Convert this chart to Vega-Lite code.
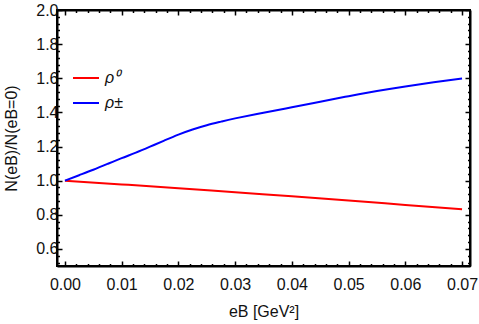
{
  "$schema": "https://vega.github.io/schema/vega-lite/v6.json",
  "autosize": "none",
  "width": 413,
  "height": 256,
  "padding": {"left": 57, "top": 10, "right": 9, "bottom": 58},
  "background": "white",
  "config": {
    "view": {"stroke": "black", "strokeWidth": 2},
    "font": "Liberation Sans",
    "axis": {"grid": false, "domainColor": "black", "domainWidth": 2, "tickColor": "black", "tickWidth": 1.5, "labelColor": "#111", "titleColor": "#111", "labelFont": "Liberation Sans", "titleFont": "Liberation Sans", "labelFontSize": 16, "titleFontSize": 16, "titleFontWeight": "normal"}
  },
  "data": {"values": [
    {"series": "ρ⁰", "eB": 0.0, "ratio": 1.0},
    {"series": "ρ⁰", "eB": 0.01, "ratio": 0.978},
    {"series": "ρ⁰", "eB": 0.02, "ratio": 0.956},
    {"series": "ρ⁰", "eB": 0.03, "ratio": 0.932},
    {"series": "ρ⁰", "eB": 0.04, "ratio": 0.909},
    {"series": "ρ⁰", "eB": 0.05, "ratio": 0.884},
    {"series": "ρ⁰", "eB": 0.06, "ratio": 0.858},
    {"series": "ρ⁰", "eB": 0.07, "ratio": 0.832},
    {"series": "ρ±", "eB": 0.0, "ratio": 1.0},
    {"series": "ρ±", "eB": 0.0025, "ratio": 1.032},
    {"series": "ρ±", "eB": 0.005, "ratio": 1.064},
    {"series": "ρ±", "eB": 0.0075, "ratio": 1.098},
    {"series": "ρ±", "eB": 0.01, "ratio": 1.132},
    {"series": "ρ±", "eB": 0.0125, "ratio": 1.164},
    {"series": "ρ±", "eB": 0.015, "ratio": 1.199},
    {"series": "ρ±", "eB": 0.0175, "ratio": 1.235},
    {"series": "ρ±", "eB": 0.02, "ratio": 1.27},
    {"series": "ρ±", "eB": 0.0225, "ratio": 1.3},
    {"series": "ρ±", "eB": 0.025, "ratio": 1.325},
    {"series": "ρ±", "eB": 0.0275, "ratio": 1.346},
    {"series": "ρ±", "eB": 0.03, "ratio": 1.365},
    {"series": "ρ±", "eB": 0.035, "ratio": 1.398},
    {"series": "ρ±", "eB": 0.04, "ratio": 1.43},
    {"series": "ρ±", "eB": 0.045, "ratio": 1.463},
    {"series": "ρ±", "eB": 0.05, "ratio": 1.495},
    {"series": "ρ±", "eB": 0.055, "ratio": 1.525},
    {"series": "ρ±", "eB": 0.06, "ratio": 1.552},
    {"series": "ρ±", "eB": 0.065, "ratio": 1.576},
    {"series": "ρ±", "eB": 0.07, "ratio": 1.598}
  ]},
  "resolve": {"axis": {"x": "independent", "y": "independent"}},
  "layer": [
    {
      "mark": {"type": "line", "strokeWidth": 2, "interpolate": "natural"},
      "encoding": {
        "x": {"field": "eB", "type": "quantitative",
          "scale": {"domain": [-0.0014, 0.0714], "nice": false, "zero": false},
          "axis": {"orient": "bottom", "title": "eB [GeV²]", "titlePadding": 11,
            "values": [0,0.002,0.004,0.006,0.008,0.01,0.012,0.014,0.016,0.018,0.02,0.022,0.024,0.026,0.028,0.03,0.032,0.034,0.036,0.038,0.04,0.042,0.044,0.046,0.048,0.05,0.052,0.054,0.056,0.058,0.06,0.062,0.064,0.066,0.068,0.07],
            "labelExpr": "abs(datum.value*100 - round(datum.value*100)) < 0.001 ? format(datum.value, '.2f') : ''",
            "tickSize": {"condition": {"test": "abs(datum.value*100 - round(datum.value*100)) < 0.001", "value": -5}, "value": -2.5},
            "labelPadding": 15}},
        "y": {"field": "ratio", "type": "quantitative",
          "scale": {"domain": [0.5, 2.0], "nice": false, "zero": false},
          "axis": {"orient": "left", "title": "N(eB)/N(eB=0)", "titlePadding": 16,
            "values": [0.52,0.56,0.6,0.64,0.68,0.72,0.76,0.8,0.84,0.88,0.92,0.96,1.0,1.04,1.08,1.12,1.16,1.2,1.24,1.28,1.32,1.36,1.4,1.44,1.48,1.52,1.56,1.6,1.64,1.68,1.72,1.76,1.8,1.84,1.88,1.92,1.96,2.0],
            "labelExpr": "abs(datum.value*5 - round(datum.value*5)) < 0.001 ? format(datum.value, '.1f') : ''",
            "tickSize": {"condition": {"test": "abs(datum.value*5 - round(datum.value*5)) < 0.001", "value": -5}, "value": -2.5},
            "labelPadding": 4}},
        "color": {"field": "series", "type": "nominal",
          "scale": {"domain": ["ρ⁰", "ρ±"], "range": ["#ff0000", "#0000ff"]},
          "legend": {"orient": "none", "legendX": 15, "legendY": 54, "title": null,
            "symbolType": "stroke", "symbolSize": 676, "symbolStrokeWidth": 2,
            "labelFontSize": 16, "labelFontStyle": "italic", "labelFont": "Liberation Sans", "labelColor": "#111",
            "rowPadding": 3, "labelOffset": 5}}
      }
    },
    {
      "mark": {"type": "line", "strokeOpacity": 0},
      "encoding": {
        "detail": {"field": "series"},
        "x": {"field": "eB", "type": "quantitative",
          "axis": {"orient": "top", "title": null, "labels": false,
            "values": [0,0.002,0.004,0.006,0.008,0.01,0.012,0.014,0.016,0.018,0.02,0.022,0.024,0.026,0.028,0.03,0.032,0.034,0.036,0.038,0.04,0.042,0.044,0.046,0.048,0.05,0.052,0.054,0.056,0.058,0.06,0.062,0.064,0.066,0.068,0.07],
            "tickSize": {"condition": {"test": "abs(datum.value*100 - round(datum.value*100)) < 0.001", "value": -5}, "value": -2.5}}},
        "y": {"field": "ratio", "type": "quantitative",
          "axis": {"orient": "right", "title": null, "labels": false,
            "values": [0.52,0.56,0.6,0.64,0.68,0.72,0.76,0.8,0.84,0.88,0.92,0.96,1.0,1.04,1.08,1.12,1.16,1.2,1.24,1.28,1.32,1.36,1.4,1.44,1.48,1.52,1.56,1.6,1.64,1.68,1.72,1.76,1.8,1.84,1.88,1.92,1.96,2.0],
            "tickSize": {"condition": {"test": "abs(datum.value*5 - round(datum.value*5)) < 0.001", "value": -5}, "value": -2.5}}}
      }
    }
  ]
}
